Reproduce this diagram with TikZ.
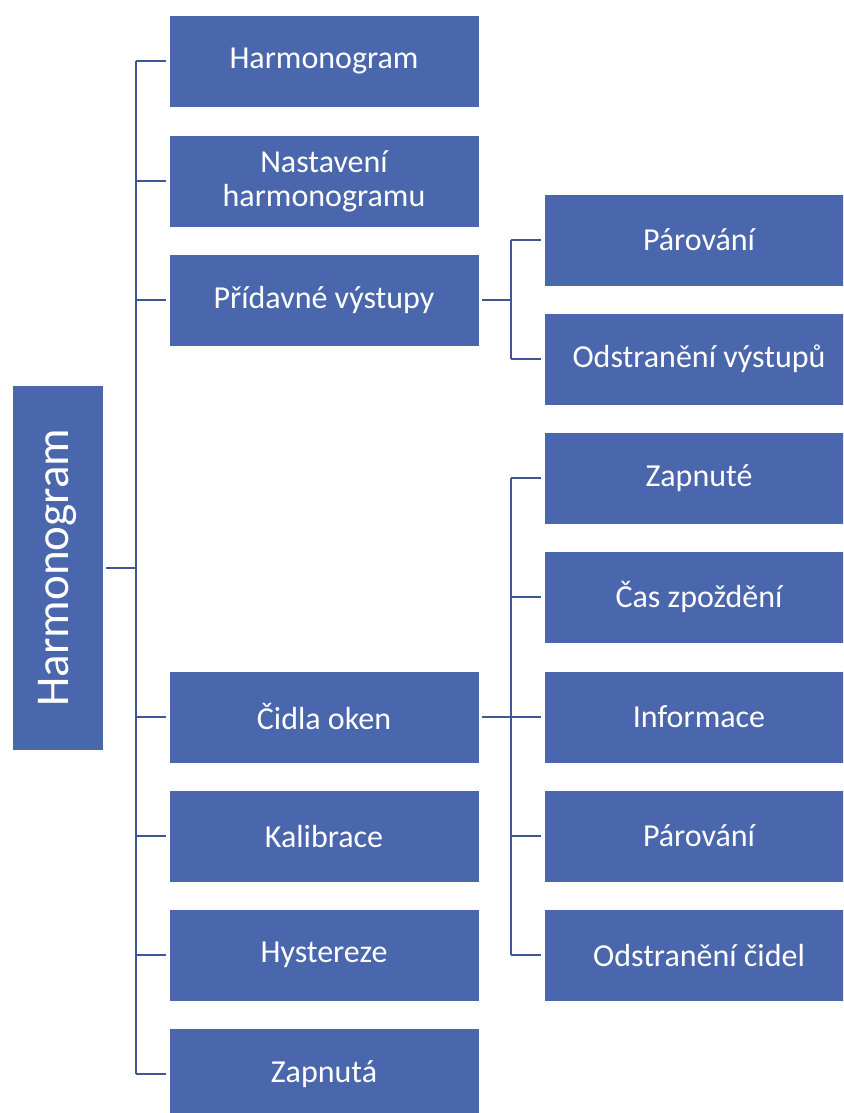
\documentclass[tikz,border=0pt]{standalone}
\usepackage{fontspec}
\setmainfont{Carlito}
\definecolor{hgfill}{RGB}{74,103,173}
\definecolor{hgline}{RGB}{62,86,150}
\usepackage{tikz}

\tikzset{
  itembox/.style={rectangle, fill=hgfill, draw=white, line width=0.8pt,
    text=white, minimum width=310pt, minimum height=92pt, inner sep=0pt,
    align=center, font=\fontsize{32}{34}\selectfont},
  rootbox/.style={itembox, minimum width=365pt, minimum height=91pt,
    rotate=90, font=\fontsize{47}{50}\selectfont},
  conn/.style={draw=hgline, line width=2pt}
}

\begin{document}
\begin{tikzpicture}[x=1pt, y=-1pt]
        \clip (0,0) rectangle (843,1113);
        % root and trunks
        \node[rootbox] (root) at (57.5,567.5) {Harmonogram};
        \coordinate (trunk) at (136,0);
        \coordinate (vys) at (511,0);
        \coordinate (cid) at (511,0);
        % first level
        \node[itembox] (harm) at (324,61) {Harmonogram};
        \node[itembox] (nast) at (324,181) {Nastavení\\harmonogramu};
        \node[itembox] (prid) at (324,300) {Přídavné výstupy};
        \node[itembox] (cidla) at (324,717) {Čidla oken};
        \node[itembox] (kalib) at (324,836) {Kalibrace};
        \node[itembox] (hyst) at (324,955) {Hystereze};
        \node[itembox] (zapa) at (324,1074) {Zapnutá};
        % second level
        \node[itembox] (parv) at (699,240) {Párování};
        \node[itembox] (odsv) at (699,359) {Odstranění výstupů};
        \node[itembox] (zape) at (699,478) {Zapnuté};
        \node[itembox] (cas) at (699,597) {Čas zpoždění};
        \node[itembox] (info) at (699,717) {Informace};
        \node[itembox] (parc) at (699,836) {Párování};
        \node[itembox] (odsc) at (699,955) {Odstranění čidel};
        % connectors
        \draw[conn] ([xshift=3]root.south) -- (root.south -| trunk);
        \draw[conn] (harm.west -| trunk) -- (zapa.west -| trunk);
        \foreach \n in {harm,nast,prid,cidla,kalib,hyst,zapa}
          \draw[conn] (\n.west -| trunk) -- ([xshift=-3]\n.west);
        \draw[conn] ([xshift=3]prid.east) -- (prid.east -| vys);
        \draw[conn] (parv.west -| vys) -- (odsv.west -| vys);
        \foreach \n in {parv,odsv}
          \draw[conn] (\n.west -| vys) -- ([xshift=-3]\n.west);
        \draw[conn] ([xshift=3]cidla.east) -- (cidla.east -| cid);
        \draw[conn] (zape.west -| cid) -- (odsc.west -| cid);
        \foreach \n in {zape,cas,info,parc,odsc}
          \draw[conn] (\n.west -| cid) -- ([xshift=-3]\n.west);
\end{tikzpicture}
\end{document}
